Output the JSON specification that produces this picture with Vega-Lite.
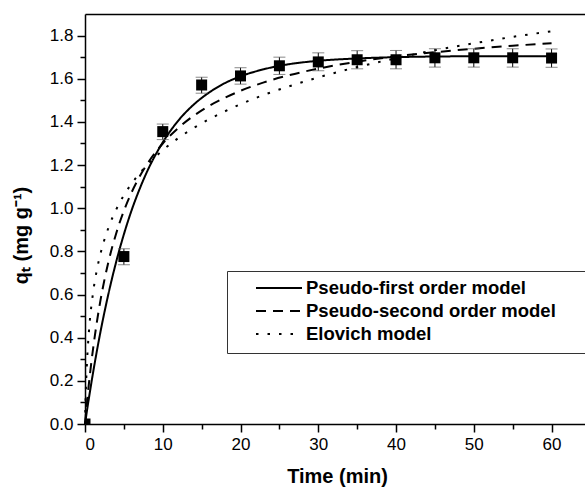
{
  "$schema": "https://vega.github.io/schema/vega-lite/v6.json",
  "width": 500,
  "height": 410,
  "autosize": {"type": "none"},
  "padding": {"left": 85, "top": 14, "right": 0, "bottom": 63},
  "background": "white",
  "config": {
    "view": {"stroke": null},
    "font": "Liberation Sans",
    "axis": {
      "domainColor": "black", "domainWidth": 1.5, "tickColor": "black", "tickWidth": 1.5,
      "labelColor": "black", "labelFont": "Liberation Sans", "labelFontSize": 17,
      "titleFont": "Liberation Sans", "titleFontSize": 20, "titleFontWeight": "bold", "titleColor": "black",
      "grid": false, "labelPadding": 4
    }
  },
  "datasets": {
    "curves": [
      {"model": "Pseudo-first order model", "t": 0, "q": 0},
      {"model": "Pseudo-first order model", "t": 0.25, "q": 0.061},
      {"model": "Pseudo-first order model", "t": 0.5, "q": 0.119},
      {"model": "Pseudo-first order model", "t": 1, "q": 0.230},
      {"model": "Pseudo-first order model", "t": 1.5, "q": 0.333},
      {"model": "Pseudo-first order model", "t": 2, "q": 0.429},
      {"model": "Pseudo-first order model", "t": 3, "q": 0.601},
      {"model": "Pseudo-first order model", "t": 4, "q": 0.750},
      {"model": "Pseudo-first order model", "t": 5, "q": 0.879},
      {"model": "Pseudo-first order model", "t": 6, "q": 0.991},
      {"model": "Pseudo-first order model", "t": 7, "q": 1.087},
      {"model": "Pseudo-first order model", "t": 8, "q": 1.171},
      {"model": "Pseudo-first order model", "t": 10, "q": 1.305},
      {"model": "Pseudo-first order model", "t": 12, "q": 1.406},
      {"model": "Pseudo-first order model", "t": 14, "q": 1.481},
      {"model": "Pseudo-first order model", "t": 16, "q": 1.537},
      {"model": "Pseudo-first order model", "t": 18, "q": 1.580},
      {"model": "Pseudo-first order model", "t": 20, "q": 1.611},
      {"model": "Pseudo-first order model", "t": 23, "q": 1.644},
      {"model": "Pseudo-first order model", "t": 26, "q": 1.666},
      {"model": "Pseudo-first order model", "t": 30, "q": 1.683},
      {"model": "Pseudo-first order model", "t": 35, "q": 1.694},
      {"model": "Pseudo-first order model", "t": 40, "q": 1.700},
      {"model": "Pseudo-first order model", "t": 45, "q": 1.703},
      {"model": "Pseudo-first order model", "t": 50, "q": 1.704},
      {"model": "Pseudo-first order model", "t": 55, "q": 1.704},
      {"model": "Pseudo-first order model", "t": 60, "q": 1.705},
      {"model": "Pseudo-second order model", "t": 0, "q": 0},
      {"model": "Pseudo-second order model", "t": 0.25, "q": 0.098},
      {"model": "Pseudo-second order model", "t": 0.5, "q": 0.186},
      {"model": "Pseudo-second order model", "t": 1, "q": 0.338},
      {"model": "Pseudo-second order model", "t": 1.5, "q": 0.466},
      {"model": "Pseudo-second order model", "t": 2, "q": 0.575},
      {"model": "Pseudo-second order model", "t": 3, "q": 0.749},
      {"model": "Pseudo-second order model", "t": 4, "q": 0.882},
      {"model": "Pseudo-second order model", "t": 5, "q": 0.988},
      {"model": "Pseudo-second order model", "t": 6, "q": 1.074},
      {"model": "Pseudo-second order model", "t": 7, "q": 1.145},
      {"model": "Pseudo-second order model", "t": 8, "q": 1.205},
      {"model": "Pseudo-second order model", "t": 10, "q": 1.300},
      {"model": "Pseudo-second order model", "t": 12, "q": 1.372},
      {"model": "Pseudo-second order model", "t": 14, "q": 1.429},
      {"model": "Pseudo-second order model", "t": 16, "q": 1.475},
      {"model": "Pseudo-second order model", "t": 18, "q": 1.512},
      {"model": "Pseudo-second order model", "t": 20, "q": 1.544},
      {"model": "Pseudo-second order model", "t": 23, "q": 1.583},
      {"model": "Pseudo-second order model", "t": 26, "q": 1.614},
      {"model": "Pseudo-second order model", "t": 30, "q": 1.647},
      {"model": "Pseudo-second order model", "t": 35, "q": 1.679},
      {"model": "Pseudo-second order model", "t": 40, "q": 1.704},
      {"model": "Pseudo-second order model", "t": 45, "q": 1.723},
      {"model": "Pseudo-second order model", "t": 50, "q": 1.739},
      {"model": "Pseudo-second order model", "t": 55, "q": 1.753},
      {"model": "Pseudo-second order model", "t": 60, "q": 1.764},
      {"model": "Elovich model", "t": 0, "q": 0},
      {"model": "Elovich model", "t": 0.1, "q": 0.144},
      {"model": "Elovich model", "t": 0.25, "q": 0.281},
      {"model": "Elovich model", "t": 0.5, "q": 0.426},
      {"model": "Elovich model", "t": 1, "q": 0.599},
      {"model": "Elovich model", "t": 1.5, "q": 0.709},
      {"model": "Elovich model", "t": 2, "q": 0.790},
      {"model": "Elovich model", "t": 3, "q": 0.908},
      {"model": "Elovich model", "t": 4, "q": 0.993},
      {"model": "Elovich model", "t": 5, "q": 1.060},
      {"model": "Elovich model", "t": 6, "q": 1.114},
      {"model": "Elovich model", "t": 7, "q": 1.161},
      {"model": "Elovich model", "t": 8, "q": 1.201},
      {"model": "Elovich model", "t": 10, "q": 1.269},
      {"model": "Elovich model", "t": 12, "q": 1.325},
      {"model": "Elovich model", "t": 14, "q": 1.372},
      {"model": "Elovich model", "t": 16, "q": 1.413},
      {"model": "Elovich model", "t": 18, "q": 1.449},
      {"model": "Elovich model", "t": 20, "q": 1.482},
      {"model": "Elovich model", "t": 23, "q": 1.525},
      {"model": "Elovich model", "t": 26, "q": 1.562},
      {"model": "Elovich model", "t": 30, "q": 1.606},
      {"model": "Elovich model", "t": 35, "q": 1.654},
      {"model": "Elovich model", "t": 40, "q": 1.695},
      {"model": "Elovich model", "t": 45, "q": 1.732},
      {"model": "Elovich model", "t": 50, "q": 1.764},
      {"model": "Elovich model", "t": 55, "q": 1.794},
      {"model": "Elovich model", "t": 60, "q": 1.820}
    ],
    "points": [
      {"t": 0, "q": 0, "lo": null, "hi": null},
      {"t": 5, "q": 0.776, "lo": 0.738, "hi": 0.812},
      {"t": 10, "q": 1.355, "lo": 1.318, "hi": 1.390},
      {"t": 15, "q": 1.571, "lo": 1.533, "hi": 1.607},
      {"t": 20, "q": 1.613, "lo": 1.575, "hi": 1.651},
      {"t": 25, "q": 1.660, "lo": 1.620, "hi": 1.700},
      {"t": 30, "q": 1.678, "lo": 1.637, "hi": 1.720},
      {"t": 35, "q": 1.688, "lo": 1.646, "hi": 1.730},
      {"t": 40, "q": 1.688, "lo": 1.646, "hi": 1.731},
      {"t": 45, "q": 1.697, "lo": 1.654, "hi": 1.739},
      {"t": 50, "q": 1.697, "lo": 1.654, "hi": 1.739},
      {"t": 55, "q": 1.697, "lo": 1.654, "hi": 1.739},
      {"t": 60, "q": 1.696, "lo": 1.653, "hi": 1.738}
    ]
  },
  "resolve": {"axis": {"x": "independent", "y": "independent"}},
  "layer": [
    {
      "data": {"name": "curves"},
      "mark": {"type": "line", "color": "black", "strokeWidth": 2, "interpolate": "monotone", "strokeCap": "butt"},
      "encoding": {
        "x": {"field": "t", "type": "quantitative", "scale": {"domain": [0, 64.3], "nice": false, "zero": false},
              "axis": {"orient": "bottom", "values": [5, 15, 25, 35, 45, 55], "tickSize": 5, "labels": false, "title": null, "domain": false}},
        "y": {"field": "q", "type": "quantitative", "scale": {"domain": [0, 1.9], "nice": false},
              "axis": {"orient": "left", "values": [0.1, 0.3, 0.5, 0.7, 0.9, 1.1, 1.3, 1.5, 1.7], "tickSize": 5, "labels": false, "title": null, "domain": false}},
        "strokeDash": {
          "field": "model", "type": "nominal",
          "scale": {"domain": ["Pseudo-first order model", "Pseudo-second order model", "Elovich model"], "range": [[1, 0], [10, 7], [2.5, 9]]},
          "legend": {
            "title": "\u00a0", "titleOrient": "right", "titlePadding": 50, "titleFontSize": 2, "titleColor": "white",
            "orient": "none", "legendX": 142, "legendY": 257,
            "strokeColor": "#333", "padding": 9, "fillColor": "white",
            "symbolType": "stroke", "symbolSize": 2116, "symbolStrokeWidth": 2, "symbolStrokeColor": "black",
            "symbolOffset": 19, "labelOffset": 3, "clipHeight": 16, "rowPadding": 4,
            "labelFont": "Liberation Sans", "labelFontSize": 18.5, "labelFontWeight": "bold", "labelColor": "black",
            "labelLimit": 600
          }
        }
      }
    },
    {
      "data": {"name": "points"},
      "mark": {"type": "rule", "color": "black", "strokeWidth": 1},
      "encoding": {
        "x": {"field": "t", "type": "quantitative", "axis": {"orient": "top", "ticks": false, "labels": false, "title": null}},
        "y": {"field": "lo", "type": "quantitative", "axis": null},
        "y2": {"field": "hi"}
      }
    },
    {
      "data": {"name": "points"},
      "mark": {"type": "tick", "orient": "horizontal", "color": "#555", "size": 12, "thickness": 1},
      "encoding": {
        "x": {"field": "t", "type": "quantitative", "axis": null},
        "y": {"field": "lo", "type": "quantitative", "axis": null}
      }
    },
    {
      "data": {"name": "points"},
      "mark": {"type": "tick", "orient": "horizontal", "color": "#555", "size": 12, "thickness": 1},
      "encoding": {
        "x": {"field": "t", "type": "quantitative", "axis": null},
        "y": {"field": "hi", "type": "quantitative", "axis": null}
      }
    },
    {
      "data": {"name": "points"},
      "mark": {"type": "square", "filled": true, "color": "black", "size": 121, "opacity": 1, "clip": true},
      "encoding": {
        "x": {"field": "t", "type": "quantitative",
              "axis": {"orient": "bottom", "values": [0, 10, 20, 30, 40, 50, 60], "tickSize": 8, "title": "Time (min)", "titleX": 252, "titleY": 58, "titleBaseline": "alphabetic"}},
        "y": {"field": "q", "type": "quantitative",
              "axis": {"orient": "left", "values": [0, 0.2, 0.4, 0.6, 0.8, 1.0, 1.2, 1.4, 1.6, 1.8], "format": ".1f", "tickSize": 8,
                       "title": "qₜ (mg g⁻¹)", "titleX": -58, "titleY": 221, "titleBaseline": "alphabetic", "titleAngle": -90}}
      }
    }
  ]
}
